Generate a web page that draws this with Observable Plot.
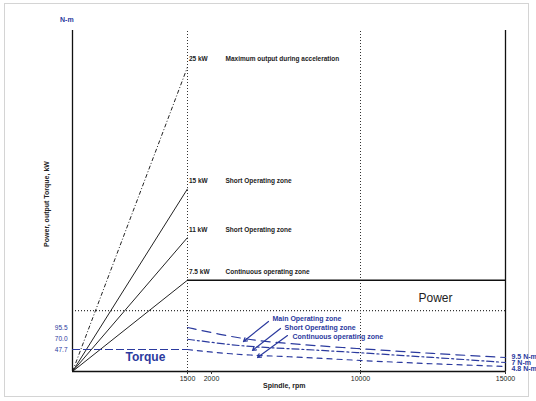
<!DOCTYPE html>
<html><head><meta charset="utf-8">
<script src="https://cdn.jsdelivr.net/npm/d3@7"></script>
<script src="https://cdn.jsdelivr.net/npm/@observablehq/plot@0.6"></script>
<style>
body{margin:0;background:#fff;font-family:"Liberation Sans",Arial,sans-serif;}
#wrap{position:relative;width:536px;height:401px;overflow:hidden;}
#wrap svg{position:absolute;left:0;top:0;}
.frame{position:absolute;left:4px;top:3px;width:523px;height:392px;border:1px solid #d4d4d4;}
.lbl{position:absolute;font-size:7px;font-weight:bold;white-space:nowrap;}
</style></head>
<body><div id="wrap"><div class="frame"></div></div>
<script>
// ---- data ----
const xTicks = [1500, 2000, 10000, 15000];
const xTickLabels = ["1500", "2000", "10000", "15000"];
const powerLabels = ["25 kW", "15 kW", "11 kW", "7.5 kW"];
const powerValues = [25, 15, 11, 7.5];
const powerZones = ["Maximum output during acceleration", "Short Operating zone", "Short Operating zone", "Continuous operating zone"];
const baseRpm = 1500;
const maxRpm = 15000;
const powerSeparator = 5;
const torqueStart = [95.5, 70.0, 47.7];
const torqueStartLabels = ["95.5", "70.0", "47.7"];
const torqueEndLabels = ["9.5 N-m", "7 N-m", "4.8 N-m"];
const torqueEndPos = [32, 19, 6];
const torqueZones = ["Main Operating zone", "Short Operating zone", "Continuous operating zone"];
const curveRpm = [1500, 2500, 4000, 6000, 9000, 11400, 13100, 15000];
const mainTorque = [95.5, 80.0, 69.0, 60.8, 52.1, 43.4, 36.9, 30.4];
const shortTorque = [70.0, 60.5, 54.0, 49.9, 43.4, 34.7, 28.2, 19.5];
const contTorque = [47.7, 40.0, 35.5, 32.6, 26.0, 19.5, 15.2, 10.9];
const labelRpm = [5275, 5920, 6350];
const labelTorque = [115, 95.5, 76];
const arrowFromRpm = [5060, 5705, 6080];
const arrowFromTorque = [108.5, 93.3, 78.1];
const arrowToRpm = [3718, 4201, 4470];
const arrowToTorque = [65.1, 45.6, 30.4];

const blue = "#2b3a9e";
const xScale = {type: "linear", domain: [0, 1500, 2000, 10000, 15000], range: [72, 187, 211, 360, 505]};
const font = "Liberation Sans, Arial, sans-serif";

const powerRows = powerValues.map((v, i) => ({v, label: powerLabels[i], zone: powerZones[i], dash: i === 0}));

const powerPlot = Plot.plot({
  width: 536, height: 401,
  style: {background: "transparent", fontFamily: font},
  x: xScale,
  y: {domain: [0, 28], range: [371, 30], axis: null},
  marks: [
    Plot.ruleX([baseRpm, 10000], {y1: 0, y2: 28, stroke: "#333", strokeDasharray: "1,2", strokeWidth: 1}),
    Plot.ruleY([powerSeparator], {x1: 0, x2: maxRpm, stroke: "#333", strokeDasharray: "1,2", strokeWidth: 1.2}),
    Plot.link(powerRows.filter(d => d.dash), {x1: 0, y1: 0, x2: baseRpm, y2: "v", stroke: "#222", strokeWidth: 1, strokeDasharray: "4,2,1,2"}),
    Plot.link(powerRows.filter(d => !d.dash), {x1: 0, y1: 0, x2: baseRpm, y2: "v", stroke: "#222", strokeWidth: 1}),
    Plot.ruleY([powerValues[3]], {x1: baseRpm, x2: maxRpm, stroke: "#111", strokeWidth: 1.5}),
    Plot.ruleX([0, maxRpm], {y1: 0, y2: 28, stroke: "#111", strokeWidth: 1.3}),
    Plot.ruleY([0], {x1: 0, x2: maxRpm, stroke: "#111", strokeWidth: 1.5}),
    Plot.text(powerRows, {x: 1530, y: "v", text: "label", dy: -8, textAnchor: "start", fontSize: 6.5, fontWeight: "bold", fill: "#222"}),
    Plot.text(powerRows, {x: 2752, y: "v", text: "zone", dy: -8, textAnchor: "start", fontSize: 6.5, fontWeight: "bold", fill: "#222"}),
    Plot.text(["Power"], {x: 12586, y: 6.0, text: d => d, fontSize: 12, fill: "#222"}),
    Plot.axisX(xTicks, {tickFormat: d => xTickLabels[xTicks.indexOf(d)], tickSize: 3, fontSize: 7, tickPadding: 2, stroke: "#333", fill: "#222"})
  ]
});

const curves = [
  ...curveRpm.map((r, i) => ({r, t: mainTorque[i], k: "main"})),
  ...curveRpm.map((r, i) => ({r, t: shortTorque[i], k: "short"})),
  ...curveRpm.map((r, i) => ({r, t: contTorque[i], k: "cont"}))
];
const zoneRows = torqueZones.map((z, i) => ({z, lr: labelRpm[i], lt: labelTorque[i], fr: arrowFromRpm[i], ft: arrowFromTorque[i], tr: arrowToRpm[i], tt: arrowToTorque[i]}));

const torquePlot = Plot.plot({
  width: 536, height: 401,
  style: {background: "transparent", fontFamily: font},
  x: {...xScale, axis: null},
  y: {domain: [0, 740], range: [371, 30], axis: null},
  marks: [
    Plot.ruleY([torqueStart[2]], {x1: 0, x2: baseRpm, stroke: blue, strokeWidth: 1.2, strokeDasharray: "8,3"}),
    Plot.line(curves.filter(d => d.k === "main"), {x: "r", y: "t", stroke: blue, strokeWidth: 1.2, strokeDasharray: "9,6", curve: "basis"}),
    Plot.line(curves.filter(d => d.k === "short"), {x: "r", y: "t", stroke: blue, strokeWidth: 1.2, strokeDasharray: "7,3,2,3", curve: "basis"}),
    Plot.line(curves.filter(d => d.k === "cont"), {x: "r", y: "t", stroke: blue, strokeWidth: 1.2, strokeDasharray: "5,5", curve: "basis"}),
    Plot.arrow(zoneRows, {x1: "fr", y1: "ft", x2: "tr", y2: "tt", stroke: blue, strokeWidth: 1.2, headLength: 5}),
    Plot.text(zoneRows, {x: "lr", y: "lt", text: "z", textAnchor: "start", fontSize: 7, fontWeight: "bold", fill: blue}),
    Plot.text(torqueStart, {x: 0, y: d => d, text: (d, i) => torqueStartLabels[i], dx: -5, textAnchor: "end", fontSize: 6.5, fill: blue}),
    Plot.text(torqueEndLabels, {x: maxRpm, y: (d, i) => torqueEndPos[i], text: d => d, dx: 6, textAnchor: "start", fontSize: 7, fontWeight: "bold", fill: blue}),
    Plot.text(["Torque"], {x: 952, y: 30.4, text: d => d, fontSize: 12, fontWeight: "bold", fill: blue})
  ]
});

const wrap = document.getElementById("wrap");
wrap.appendChild(powerPlot);
wrap.appendChild(torquePlot);

function addLabel(txt, css) {
  const d = document.createElement("div");
  d.className = "lbl";
  d.textContent = txt;
  Object.assign(d.style, css);
  wrap.appendChild(d);
}
addLabel("N-m", {left: "60px", top: "16px", color: blue});
addLabel("Spindle, rpm", {left: "263px", top: "382px", color: "#222"});
addLabel("Power, output Torque, kW", {left: "0px", top: "200px", width: "94px", textAlign: "center", transform: "rotate(-90deg)", transformOrigin: "47px 4px", color: "#222"});
</script></body></html>
